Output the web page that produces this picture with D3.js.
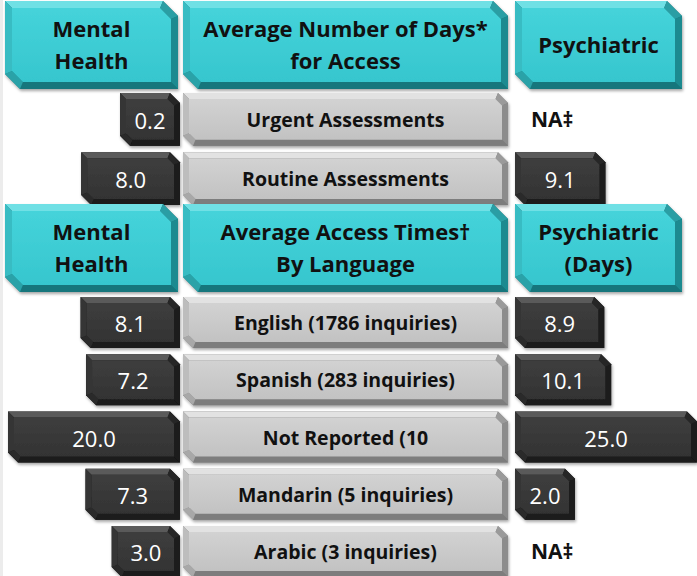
<!DOCTYPE html>
<html>
<head>
<meta charset="utf-8">
<script src="https://cdn.jsdelivr.net/npm/d3@7"></script>
<style>
  html, body { margin: 0; padding: 0; background: #fff; }
  svg { display: block; font-family: "Open Sans", "Noto Sans", sans-serif; }
</style>
</head>
<body>
<svg id="chart" width="697" height="576"></svg>
<script>
// Header texts (one entry per line)
const accessHeaders = [["Mental", "Health"], ["Average Number of Days*", "for Access"], ["Psychiatric"]];
const languageHeaders = [["Mental", "Health"], ["Average Access Times\u2020", "By Language"], ["Psychiatric", "(Days)"]];

// Access rows
const accessLabels = ["Urgent Assessments", "Routine Assessments"];
const accessMental = [0.2, 8.0];
const accessPsych = [null, 9.1];

// Language rows
const languageLabels = ["English (1786 inquiries)", "Spanish (283 inquiries)", "Not Reported (10", "Mandarin (5 inquiries)", "Arabic (3 inquiries)"];
const languageMental = [8.1, 7.2, 20.0, 7.3, 3.0];
const languagePsych = [8.9, 10.1, 25.0, 2.0, null];

const naLabel = "NA\u2021";

const svg = d3.select("#chart");
const defs = svg.append("defs");

// soft shadow under every box
const shadow = defs.append("filter").attr("id", "shadow")
    .attr("x", "-10%").attr("y", "-10%").attr("width", "120%").attr("height", "130%");
shadow.append("feDropShadow")
    .attr("dx", 1).attr("dy", 2).attr("stdDeviation", 1.5)
    .attr("flood-color", "#000").attr("flood-opacity", 0.35);

// colours for the bevel facets: top, top-right cut, right, bottom, bottom-left cut, left
const palettes = {
    teal: { face: ["#45d3da", "#36c6ce"], facets: ["#6fe0e5", "#2a9ea4", "#1f8a90", "#17767b", "#2aa2a8", "#38bcc3"] },
    gray: { face: ["#d2d2d2", "#c2c2c2"], facets: ["#e2e2e2", "#9a9a9a", "#8c8c8c", "#7d7d7d", "#a8a8a8", "#bdbdbd"] },
    dark: { face: ["#3e3e3e", "#333333"], facets: ["#5a5a5a", "#262626", "#1e1e1e", "#1a1a1a", "#2a2a2a", "#353535"] }
};

Object.keys(palettes).forEach(function (k) {
    const g = defs.append("linearGradient").attr("id", "face-" + k)
        .attr("x1", 0).attr("y1", 0).attr("x2", 0).attr("y2", 1);
    g.append("stop").attr("offset", "0%").attr("stop-color", palettes[k].face[0]);
    g.append("stop").attr("offset", "100%").attr("stop-color", palettes[k].face[1]);
});

// outline with cut corners at top-right and bottom-left
function outline(x0, y0, x1, y1, c) {
    return [[x0, y0], [x1 - c, y0], [x1, y0 + c], [x1, y1], [x0 + c, y1], [x0, y1 - c]];
}

function bevelBox(parent, x0, y0, x1, y1, kind, cut, b) {
    const pal = palettes[kind];
    const outer = outline(x0, y0, x1, y1, cut);
    const inner = outline(x0 + b, y0 + b, x1 - b, y1 - b, cut - b * (2 - Math.SQRT2));
    const g = parent.append("g").attr("filter", "url(#shadow)");
    g.append("polygon").attr("points", outer.join(" ")).attr("fill", pal.facets[3]);
    d3.range(6).forEach(function (i) {
        const j = (i + 1) % 6;
        g.append("polygon")
            .attr("points", [outer[i], outer[j], inner[j], inner[i]].join(" "))
            .attr("fill", pal.facets[i]);
    });
    g.append("polygon").attr("points", inner.join(" ")).attr("fill", "url(#face-" + kind + ")");
    return g;
}

// thin grey strip on the left edge
svg.append("rect").attr("x", 0).attr("y", 0).attr("width", 3).attr("height", 576).attr("fill", "#ececec");

// width scales for the value boxes
const leftWidth = d3.scaleLinear().domain([0, 20]).range([50, 172]);
const rightWidth = d3.scaleLinear().domain([0, 25]).range([38, 182]);
const minWidth = 60;

const leftEdge = 180;   // right edge of mental health boxes
const midX0 = 183, midX1 = 508;
const rightEdge = 515;  // left edge of psychiatric boxes
const headerCols = [[5, 178], [midX0, midX1], [rightEdge, 682]];

const headerH = 88, rowH = 50;

function drawHeader(cells, y) {
    cells.forEach(function (lines, i) {
        const x0 = headerCols[i][0], x1 = headerCols[i][1];
        bevelBox(svg, x0, y, x1, y + headerH, "teal", 15, 7);
        const cx = (x0 + x1) / 2, cy = y + headerH / 2;
        const fs = 22, lh = 32;
        const start = cy - (lines.length - 1) * lh / 2 + fs * 0.36;
        const t = svg.append("text").attr("text-anchor", "middle")
            .attr("font-size", fs).attr("font-weight", 700).attr("fill", "#111");
        lines.forEach(function (line, k) {
            t.append("tspan").attr("x", cx).attr("y", start + k * lh).text(line);
        });
    });
}

function drawRows(labels, mental, psych, yStart, pitch) {
    const y = d3.scaleBand().domain(d3.range(labels.length))
        .range([yStart, yStart + pitch * labels.length]).paddingInner((pitch - rowH) / pitch).paddingOuter(0).align(0);
    labels.forEach(function (label, i) {
        const y0 = y(i), y1 = y0 + y.bandwidth(), cy = (y0 + y1) / 2;

        // mental health value
        const wl = Math.max(minWidth, leftWidth(mental[i]));
        bevelBox(svg, leftEdge - wl, y0, leftEdge, y1, "dark", 10, 6);
        svg.append("text").attr("x", leftEdge - wl / 2).attr("y", cy + 9.5)
            .attr("text-anchor", "middle").attr("font-size", 22).attr("fill", "#fff")
            .text(d3.format(".1f")(mental[i]));

        // category label
        bevelBox(svg, midX0, y0, midX1, y1, "gray", 10, 6);
        svg.append("text").attr("x", (midX0 + midX1) / 2).attr("y", cy + 7.5)
            .attr("text-anchor", "middle").attr("font-size", 19.5).attr("font-weight", 700).attr("fill", "#111")
            .text(label);

        // psychiatric value
        if (psych[i] == null) {
            svg.append("text").attr("x", rightEdge + 16).attr("y", cy + 8)
                .attr("font-size", 21).attr("font-weight", 700).attr("fill", "#111")
                .text(naLabel);
        } else {
            const wr = Math.max(minWidth, rightWidth(psych[i]));
            bevelBox(svg, rightEdge, y0, rightEdge + wr, y1, "dark", 10, 6);
            svg.append("text").attr("x", rightEdge + wr / 2).attr("y", cy + 9.5)
                .attr("text-anchor", "middle").attr("font-size", 22).attr("fill", "#fff")
                .text(d3.format(".1f")(psych[i]));
        }
    });
}

drawHeader(accessHeaders, 1);
drawRows(accessLabels, accessMental, accessPsych, 93, 56);
drawHeader(languageHeaders, 204);
drawRows(languageLabels, languageMental, languagePsych, 297, 56);
</script>
</body>
</html>
